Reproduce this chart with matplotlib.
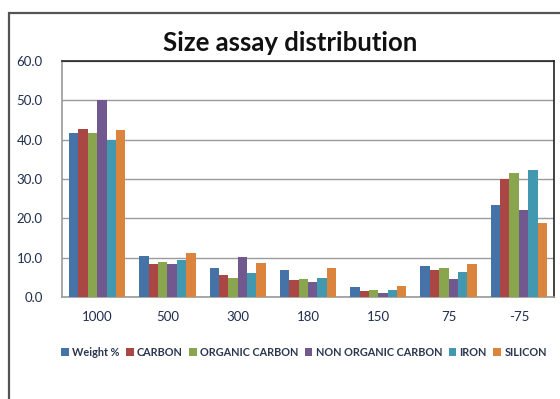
import matplotlib
matplotlib.use("Agg")
import matplotlib.pyplot as plt
import numpy as np
from matplotlib.patches import Rectangle

categories = ["1000", "500", "300", "180", "150", "75", "-75"]
series_names = ["Weight %", "CARBON", "ORGANIC CARBON", "NON ORGANIC CARBON", "IRON", "SILICON"]
weight = [41.7, 10.4, 7.4, 6.9, 2.5, 7.8, 23.5]
carbon = [42.8, 8.4, 5.7, 4.3, 1.5, 6.9, 30.0]
organic_carbon = [41.7, 8.8, 4.8, 4.6, 1.8, 7.5, 31.6]
non_organic_carbon = [50.0, 8.4, 10.1, 3.9, 1.0, 4.5, 22.1]
iron = [40.0, 9.3, 6.0, 4.9, 1.8, 6.4, 32.2]
silicon = [42.5, 11.3, 8.7, 7.4, 2.7, 8.4, 18.8]
colors = ["#4572A7", "#AA4643", "#89A54E", "#71588F", "#4198AF", "#DB843D"]

series = [weight, carbon, organic_carbon, non_organic_carbon, iron, silicon]

plt.rcParams["font.family"] = ["Lato", "DejaVu Sans"]

fig = plt.figure(figsize=(5.6, 3.99), dpi=100)
W, H = 560, 399

# outer chart frame
fig.patches.append(Rectangle((9 / W, -0.05), 1.0, (399 - 13) / H + 0.05,
                             transform=fig.transFigure, fill=False,
                             edgecolor="#555555", linewidth=1.6))

left, right, top, bottom = 62, 554, 61, 297
ax = fig.add_axes([left / W, 1 - bottom / H, (right - left) / W, (bottom - top) / H])

x = np.arange(len(categories))
n = len(series)
bw = 0.8 / n
for i, (vals, name, c) in enumerate(zip(series, series_names, colors)):
    ax.bar(x - 0.4 + bw * (i + 0.5), vals, width=bw, color=c, label=name,
           edgecolor="none", zorder=3)

ax.set_ylim(0, 60)
ax.set_xlim(-0.5, len(categories) - 0.5)
ax.set_yticks(np.arange(0, 61, 10))
ax.set_yticklabels([f"{v:.1f}" for v in np.arange(0, 61, 10)])
ax.set_xticks(x)
ax.set_xticklabels(categories)
ax.yaxis.grid(True, color="#9a9a9a", linewidth=1.0, zorder=0)
ax.tick_params(axis="both", length=0, labelsize=9.5, labelcolor="#1F2D4D")
ax.tick_params(axis="x", pad=10)
ax.tick_params(axis="y", pad=14)

for s in ["top", "right"]:
    ax.spines[s].set_color("#222222")
    ax.spines[s].set_linewidth(1.2)
for s in ["left", "bottom"]:
    ax.spines[s].set_color("#9a9a9a")
    ax.spines[s].set_linewidth(1.2)

fig.text(290 / W, 1 - 43 / H, "Size assay distribution",
         ha="center", va="center", fontsize=18.5, fontweight="bold", color="#111111")

leg = fig.legend(loc="center", bbox_to_anchor=(304 / W, 1 - 352 / H), ncol=6,
                 frameon=False, fontsize=7.8, handlelength=0.7, handleheight=0.7,
                 handletextpad=0.3, columnspacing=0.6)
for t in leg.get_texts():
    t.set_color("#2A3550")
    t.set_fontweight("bold")

fig.savefig("out.png", dpi=100)
